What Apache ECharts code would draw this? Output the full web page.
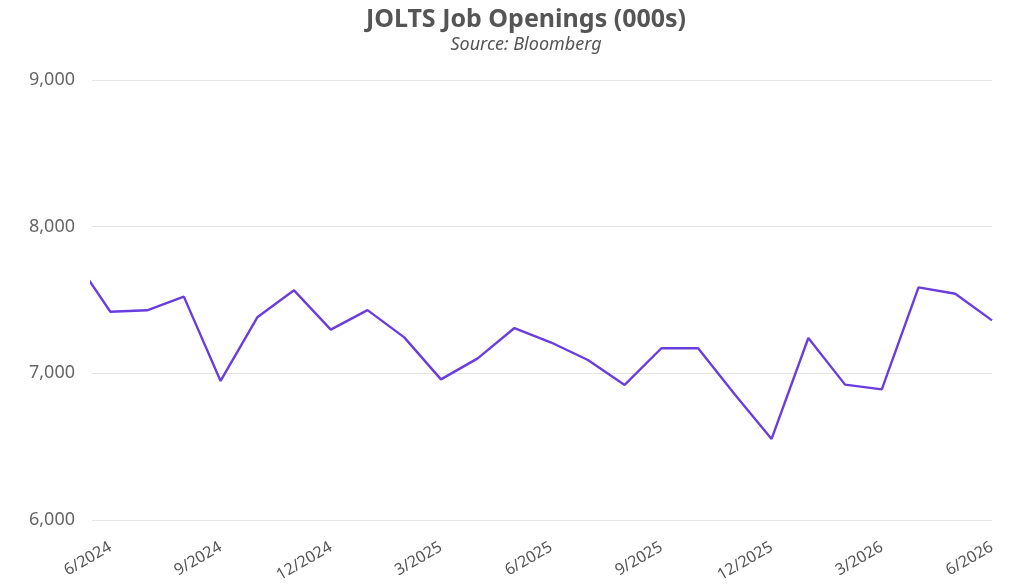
<!DOCTYPE html>
<html>
<head>
<meta charset="utf-8">
<script src="https://cdn.jsdelivr.net/npm/echarts@6/dist/echarts.min.js"></script>
<style>
    html, body { margin: 0; padding: 0; background: #fff; }
    #chart { width: 1024px; height: 588px; }
</style>
</head>
<body>
<div id="chart"></div>
<script>
    // months, first one only shows as a clipped stub at the left edge
    var months = ['5/2024', '6/2024', '7/2024', '8/2024', '9/2024', '10/2024', '11/2024', '12/2024',
        '1/2025', '2/2025', '3/2025', '4/2025', '5/2025', '6/2025', '7/2025', '8/2025', '9/2025',
        '10/2025', '11/2025', '12/2025', '1/2026', '2/2026', '3/2026', '4/2026', '5/2026', '6/2026'];
    var openings = [7790, 7420, 7430, 7523, 6948, 7382, 7566, 7298,
        7431, 7245, 6959, 7102, 7309, 7210, 7091, 6921, 7171,
        7171, 6855, 6553, 7241, 6923, 6891, 7586, 7543, 7361];
    var labelMonths = [1, 4, 7, 10, 13, 16, 19, 22, 25];
    var yTicks = [6000, 7000, 8000, 9000];

    var points = [];
    for (var i = 0; i < openings.length; i++) {
        points.push([i, openings[i]]);
    }

    var mychart = echarts.init(document.getElementById('chart'));
    var option = {
        animation: false,
        title: {
            text: 'JOLTS Job Openings (000s)',
            subtext: 'Source: Bloomberg',
            left: 521,
            textAlign: 'center',
            top: 2,
            itemGap: 4,
            textStyle: {
                fontFamily: 'Noto Sans',
                fontSize: 25,
                fontWeight: 'bold',
                color: '#555555'
            },
            subtextStyle: {
                fontFamily: 'Noto Sans',
                fontSize: 18,
                fontStyle: 'italic',
                color: '#555555'
            }
        },
        grid: {
            left: 92,
            right: 32,
            top: 80,
            bottom: 68
        },
        xAxis: {
            type: 'value',
            min: 0.5,
            max: 25,
            axisLine: { show: false },
            axisTick: { show: false },
            splitLine: { show: false },
            axisLabel: {
                customValues: labelMonths,
                rotate: 30,
                margin: 26,
                fontFamily: 'Noto Sans',
                fontSize: 16,
                color: '#555555',
                formatter: function (v) { return months[v]; }
            }
        },
        yAxis: {
            type: 'value',
            min: yTicks[0],
            max: yTicks[yTicks.length - 1],
            interval: 1000,
            axisLine: { show: false },
            axisTick: { show: false },
            splitLine: { lineStyle: { color: '#e4e4e4', width: 1 } },
            axisLabel: {
                margin: 17,
                fontFamily: 'Noto Sans',
                fontSize: 18,
                color: '#666666',
                formatter: function (v) { return v.toLocaleString('en-US'); }
            }
        },
        series: [
            {
                name: 'JOLTS Job Openings',
                type: 'line',
                data: points,
                clip: true,
                symbol: 'none',
                lineStyle: { color: '#6a3ddf', width: 2.4 }
            }
        ]
    };
    mychart.setOption(option);
</script>
</body>
</html>
